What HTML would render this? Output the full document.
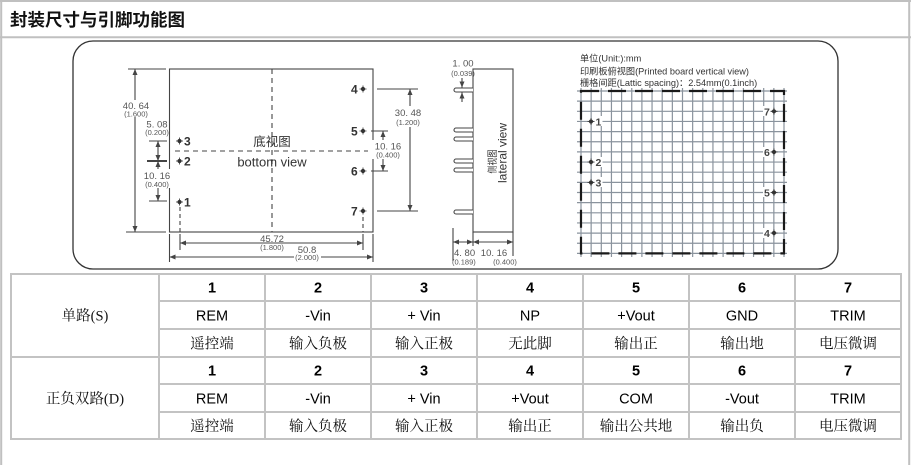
<!DOCTYPE html>
<html><head><meta charset="utf-8"><style>
html,body{margin:0;padding:0;background:#fff;width:911px;height:465px;overflow:hidden}
svg{display:block}
</style></head><body>
<svg width="911" height="465" viewBox="0 0 911 465" xmlns="http://www.w3.org/2000/svg">
<defs>
<marker id="ar" viewBox="0 0 6 5" refX="6" refY="2.5" markerWidth="6" markerHeight="5" markerUnits="userSpaceOnUse" orient="auto-start-reverse"><path d="M0,0 L6,2.5 L0,5 z" fill="#444"/></marker>
<g id="pm"><circle cx="0" cy="0" r="2.1" fill="#333"/><path d="M-3.5,0H3.5M0,-3.5V3.5" stroke="#333" stroke-width="0.8"/></g>
</defs>

<!-- page frame -->
<g stroke="#c0c0c0" stroke-width="2" fill="none">
<line x1="0" y1="1" x2="911" y2="1"/>
<line x1="1.2" y1="0" x2="1.2" y2="465"/>
<line x1="909.2" y1="0" x2="909.2" y2="465"/>
<line x1="0" y1="37.3" x2="911" y2="37.3"/>
</g>
<text x="10" y="26" font-family="'Liberation Sans','Noto Sans CJK SC',sans-serif" font-size="17.5" font-weight="bold" fill="#111">封装尺寸与引脚功能图</text>

<!-- rounded frame -->
<rect x="73" y="41" width="765" height="228" rx="20" ry="20" fill="none" stroke="#333" stroke-width="1.3"/>

<!-- ===== bottom view ===== -->
<g stroke="#444" stroke-width="1.1" fill="none">
<rect x="169.5" y="69" width="203.5" height="163"/>
<line x1="272" y1="69" x2="272" y2="232" stroke-dasharray="5 4"/>
<line x1="175" y1="151" x2="368" y2="151" stroke-dasharray="5 4"/>
<!-- left dims -->
<line x1="128" y1="69" x2="166" y2="69"/>
<line x1="126" y1="232" x2="166" y2="232"/>
<line x1="135" y1="69" x2="135" y2="232" marker-start="url(#ar)" marker-end="url(#ar)"/>
<line x1="149" y1="141" x2="167" y2="141"/>
<line x1="147" y1="161" x2="167" y2="161" stroke-width="2"/>
<line x1="149" y1="201" x2="167" y2="201"/>
<line x1="158" y1="141" x2="158" y2="161" marker-start="url(#ar)" marker-end="url(#ar)"/>
<line x1="158" y1="161" x2="158" y2="170" marker-start="url(#ar)"/>
<line x1="158" y1="188" x2="158" y2="201" marker-end="url(#ar)"/>
<!-- right dims -->
<line x1="377" y1="89" x2="418" y2="89"/>
<line x1="377" y1="211" x2="418" y2="211"/>
<line x1="410" y1="89" x2="410" y2="211" marker-start="url(#ar)" marker-end="url(#ar)"/>
<line x1="371" y1="131" x2="388" y2="131"/>
<line x1="371" y1="171" x2="388" y2="171"/>
<line x1="383" y1="131" x2="383" y2="140" marker-start="url(#ar)"/>
<line x1="383" y1="159" x2="383" y2="171" marker-end="url(#ar)"/>
<!-- bottom dims -->
<line x1="180" y1="207" x2="180" y2="232" stroke-dasharray="4 3"/>
<line x1="180" y1="234" x2="180" y2="250"/>
<line x1="363" y1="217" x2="363" y2="232" stroke-dasharray="4 3"/>
<line x1="363" y1="234" x2="363" y2="250"/>
<line x1="169.5" y1="234" x2="169.5" y2="262"/>
<line x1="373" y1="234" x2="373" y2="262"/>
<line x1="180" y1="243" x2="363" y2="243" marker-start="url(#ar)" marker-end="url(#ar)"/>
<line x1="169.5" y1="257" x2="373" y2="257" marker-start="url(#ar)" marker-end="url(#ar)"/>
</g>
<!-- white backs for dim texts -->
<g fill="#fff">
<rect x="122" y="100" width="30" height="17"/>
<rect x="141" y="169" width="32" height="19"/>
<rect x="393" y="106" width="30" height="21"/>
<rect x="372" y="140" width="32" height="19"/>
<rect x="257" y="244" width="30" height="7"/>
<rect x="294" y="253" width="27" height="7"/>
</g>
<g font-family="'Liberation Sans',sans-serif" fill="#555" text-anchor="middle">
<text x="136" y="109" font-size="9.5">40. 64</text>
<text x="136" y="116.5" font-size="7.5">(1.600)</text>
<text x="157" y="127.5" font-size="9.5">5. 08</text>
<text x="157" y="135" font-size="7.5">(0.200)</text>
<text x="157" y="179" font-size="9.5">10. 16</text>
<text x="157" y="187" font-size="7.5">(0.400)</text>
<text x="408" y="116" font-size="9.5">30. 48</text>
<text x="408" y="125" font-size="7.5">(1.200)</text>
<text x="388" y="149.5" font-size="9.5">10. 16</text>
<text x="388" y="157.5" font-size="7.5">(0.400)</text>
<text x="272" y="242" font-size="9.5">45.72</text>
<text x="272" y="250" font-size="7.5">(1.800)</text>
<text x="307" y="253" font-size="9.5">50.8</text>
<text x="307" y="260" font-size="7.5">(2.000)</text>
</g>
<text x="272" y="146" text-anchor="middle" font-family="'Liberation Sans','Noto Sans CJK SC',sans-serif" font-size="12.5" fill="#333">底视图</text>
<text x="272" y="166.5" text-anchor="middle" font-family="'Liberation Sans',sans-serif" font-size="13" fill="#333">bottom view</text>
<!-- pins bottom view -->
<use href="#pm" x="179.5" y="141"/><use href="#pm" x="179.5" y="161"/><use href="#pm" x="179.5" y="202"/>
<use href="#pm" x="363" y="89"/><use href="#pm" x="363" y="131"/><use href="#pm" x="363" y="171"/><use href="#pm" x="363" y="211"/>
<g font-family="'Liberation Sans',sans-serif" font-size="12" font-weight="bold" fill="#333">
<text x="184" y="145.5">3</text><text x="184" y="165.5">2</text><text x="184" y="206.5">1</text>
<text x="351" y="93.5">4</text><text x="351" y="135.5">5</text><text x="351" y="175.5">6</text><text x="351" y="215.5">7</text>
</g>

<!-- ===== side view ===== -->
<g stroke="#444" stroke-width="1.1" fill="#fff">
<rect x="473" y="69" width="40" height="163"/>
<path d="M473,88H456A2,2 0 0 0 456,92H473"/>
<path d="M473,128H456A2,2 0 0 0 456,132H473"/>
<path d="M473,137H456A2,2 0 0 0 456,141H473"/>
<path d="M473,159H456A2,2 0 0 0 456,163H473"/>
<path d="M473,168H456A2,2 0 0 0 456,172H473"/>
<path d="M473,210H456A2,2 0 0 0 456,214H473"/>
</g>
<g stroke="#444" stroke-width="1.1" fill="none">
<line x1="462" y1="78" x2="462" y2="87.5" marker-end="url(#ar)"/>
<line x1="462" y1="102" x2="462" y2="92.5" marker-end="url(#ar)"/>
<line x1="453" y1="228" x2="453" y2="261"/>
<line x1="473" y1="232" x2="473" y2="246"/>
<line x1="513" y1="232" x2="513" y2="256"/>
<line x1="453" y1="242" x2="473" y2="242" marker-start="url(#ar)" marker-end="url(#ar)"/>
<line x1="473" y1="242" x2="513" y2="242" marker-start="url(#ar)" marker-end="url(#ar)"/>
</g>
<g font-family="'Liberation Sans',sans-serif" fill="#555">
<text x="463" y="66.5" font-size="9.5" text-anchor="middle">1. 00</text>
<text x="463" y="76" font-size="7.5" text-anchor="middle">(0.039)</text>
<text x="454" y="256" font-size="9.5">4. 80</text>
<text x="452" y="264.5" font-size="7.5">(0.189)</text>
<text x="494" y="256" font-size="9.5" text-anchor="middle">10. 16</text>
<text x="505" y="264.5" font-size="7.5" text-anchor="middle">(0.400)</text>
</g>
<text transform="translate(496,161.5) rotate(-90)" text-anchor="middle" font-family="'Liberation Sans','Noto Sans CJK SC',sans-serif" font-size="10" fill="#333" textLength="24" lengthAdjust="spacingAndGlyphs">侧视图</text>
<text transform="translate(506.5,153) rotate(-90)" text-anchor="middle" font-family="'Liberation Sans',sans-serif" font-size="12" fill="#333">lateral view</text>

<!-- ===== grid ===== -->
<g font-family="'Liberation Sans','Noto Sans CJK SC',sans-serif" font-size="9.2" fill="#333">
<text x="580" y="61.5">单位(Unit:):mm</text>
<text x="580" y="74.5">印刷板俯视图(Printed board vertical view)</text>
<text x="580" y="86">栅格间距(Lattic spacing)：2.54mm(0.1inch)</text>
</g>
<path stroke="#8a939d" stroke-width="1.2" fill="none" d="M581 88V257M591.15 88V257M601.3 88V257M611.45 88V257M621.6 88V257M631.75 88V257M641.9 88V257M652.05 88V257M662.2 88V257M672.35 88V257M682.5 88V257M692.65 88V257M702.8 88V257M712.95 88V257M723.1 88V257M733.25 88V257M743.4 88V257M753.55 88V257M763.7 88V257M773.85 88V257M784 88V257
M577 91H787M577 101.15H787M577 111.3H787M577 121.45H787M577 131.6H787M577 141.75H787M577 151.9H787M577 162.05H787M577 172.2H787M577 182.35H787M577 192.5H787M577 202.65H787M577 212.8H787M577 222.95H787M577 233.1H787M577 243.25H787M577 253.4H787"/>
<rect x="581" y="91" width="203" height="162.4" fill="none" stroke="#1a1a1a" stroke-width="2.2" stroke-dasharray="18 9"/>
<g fill="#fff">
<rect x="594.5" y="116" width="8" height="10"/><rect x="594.5" y="157" width="8" height="10"/><rect x="594.5" y="177" width="8" height="10"/>
<rect x="763" y="106" width="8" height="10"/><rect x="763" y="147" width="8" height="10"/><rect x="763" y="187" width="8" height="10"/><rect x="763" y="228" width="8" height="10"/>
</g>
<use href="#pm" x="591" y="121.5"/><use href="#pm" x="591" y="162"/><use href="#pm" x="591" y="182.5"/>
<use href="#pm" x="774" y="111.3"/><use href="#pm" x="774" y="152"/><use href="#pm" x="774" y="192.5"/><use href="#pm" x="774" y="233"/>
<g font-family="'Liberation Sans',sans-serif" font-size="10.5" font-weight="bold" fill="#444">
<text x="595.5" y="125.5">1</text><text x="595.5" y="166">2</text><text x="595.5" y="186.5">3</text>
<text x="764" y="115.3">7</text><text x="764" y="156">6</text><text x="764" y="196.5">5</text><text x="764" y="237">4</text>
</g>

<!-- ===== table ===== -->
<g stroke="#c3c3c3" stroke-width="2" fill="none">
<rect x="11" y="274" width="890" height="165"/>
<line x1="11" y1="357" x2="901" y2="357"/>
<line x1="159" y1="301" x2="901" y2="301"/>
<line x1="159" y1="329" x2="901" y2="329"/>
<line x1="159" y1="384" x2="901" y2="384"/>
<line x1="159" y1="412" x2="901" y2="412"/>
<line x1="159" y1="274" x2="159" y2="439"/>
<line x1="265" y1="274" x2="265" y2="439"/>
<line x1="371" y1="274" x2="371" y2="439"/>
<line x1="477" y1="274" x2="477" y2="439"/>
<line x1="583" y1="274" x2="583" y2="439"/>
<line x1="689" y1="274" x2="689" y2="439"/>
<line x1="795" y1="274" x2="795" y2="439"/>
</g>
<g font-family="'Liberation Serif','Noto Serif CJK SC',serif" font-size="14.5" fill="#111" text-anchor="middle">
<text x="85" y="320.5">单路(S)</text>
<text x="85" y="403.5">正负双路(D)</text>
</g>
<g font-family="'Liberation Sans',sans-serif" font-size="14.5" font-weight="bold" fill="#000" text-anchor="middle">
<text x="212" y="292.7">1</text><text x="318" y="292.7">2</text><text x="424" y="292.7">3</text><text x="530" y="292.7">4</text><text x="636" y="292.7">5</text><text x="742" y="292.7">6</text><text x="848" y="292.7">7</text>
<text x="212" y="375.7">1</text><text x="318" y="375.7">2</text><text x="424" y="375.7">3</text><text x="530" y="375.7">4</text><text x="636" y="375.7">5</text><text x="742" y="375.7">6</text><text x="848" y="375.7">7</text>
</g>
<g font-family="'Liberation Sans',sans-serif" font-size="14.5" fill="#000" text-anchor="middle">
<text x="212" y="320.5">REM</text><text x="318" y="320.5">-Vin</text><text x="424" y="320.5">+ Vin</text><text x="530" y="320.5">NP</text><text x="636" y="320.5">+Vout</text><text x="742" y="320.5">GND</text><text x="848" y="320.5">TRIM</text>
<text x="212" y="403.5">REM</text><text x="318" y="403.5">-Vin</text><text x="424" y="403.5">+ Vin</text><text x="530" y="403.5">+Vout</text><text x="636" y="403.5">COM</text><text x="742" y="403.5">-Vout</text><text x="848" y="403.5">TRIM</text>
</g>
<g font-family="'Liberation Serif','Noto Serif CJK SC',serif" font-size="14.5" fill="#111" text-anchor="middle">
<text x="212" y="348.5">遥控端</text><text x="318" y="348.5">输入负极</text><text x="424" y="348.5">输入正极</text><text x="530" y="348.5">无此脚</text><text x="636" y="348.5">输出正</text><text x="742" y="348.5">输出地</text><text x="848" y="348.5">电压微调</text>
<text x="212" y="431">遥控端</text><text x="318" y="431">输入负极</text><text x="424" y="431">输入正极</text><text x="530" y="431">输出正</text><text x="636" y="431">输出公共地</text><text x="742" y="431">输出负</text><text x="848" y="431">电压微调</text>
</g>
</svg>
</body></html>
